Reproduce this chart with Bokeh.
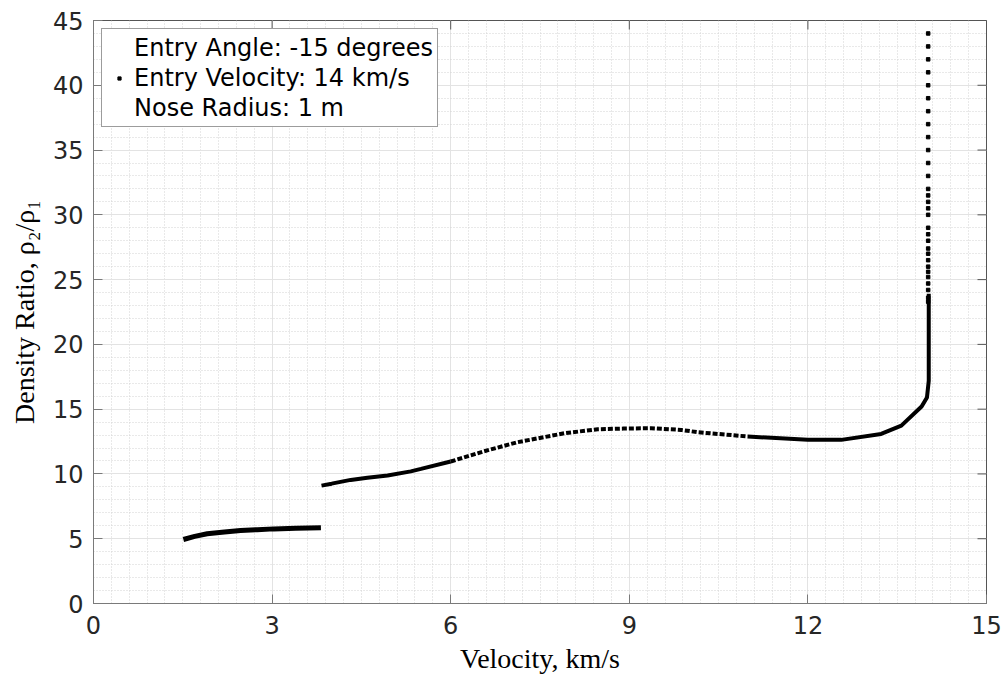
import math
from bokeh.plotting import figure
from bokeh.models import Range1d, SingleIntervalTicker, Legend, LegendItem
from bokeh.embed import file_html
from bokeh.resources import INLINE

# ---------------- data ----------------
low_velocity = [1.51, 1.70, 1.91, 2.20, 2.47, 2.75, 3.03, 3.40, 3.82]
low_ratio = [4.94, 5.18, 5.38, 5.52, 5.63, 5.70, 5.76, 5.80, 5.84]

mid_velocity = [3.83, 4.00, 4.32, 4.60, 4.94, 5.33, 5.50, 6.00, 6.56, 7.12, 7.91,
                8.47, 8.90, 9.37, 9.87, 10.15, 10.99, 12.00, 12.56, 13.23, 13.57,
                13.91, 14.00, 14.03, 14.03]
mid_ratio = [9.10, 9.25, 9.54, 9.70, 9.88, 10.20, 10.39, 10.96, 11.75, 12.45, 13.14,
             13.45, 13.50, 13.53, 13.40, 13.22, 12.89, 12.63, 12.63, 13.09, 13.73,
             15.20, 15.90, 17.20, 23.90]

top_velocity = [14.02] * 30
top_ratio = [44, 43, 42, 41, 40, 39, 38, 37, 36, 35, 34, 33, 32, 31.5, 31, 30.5, 30,
             29, 28.5, 28, 27.4, 27, 26.5, 26, 25.6, 25.2, 24.7, 24.2, 23.6, 23.3]

x_ticks = [0, 3, 6, 9, 12, 15]
y_ticks = [0, 5, 10, 15, 20, 25, 30, 35, 40, 45]
legend_labels = ["Entry Angle: -15 degrees", "Entry Velocity: 14 km/s", "Nose Radius: 1 m"]
x_label = "Velocity, km/s"
y_label = "Density Ratio, \u03c1\u2082/\u03c1\u2081"

# ---------------- figure ----------------
x_min, x_max = x_ticks[0], x_ticks[-1]
y_min, y_max = y_ticks[0], y_ticks[-1]
p = figure(width=1005, height=690, output_backend="svg", toolbar_location=None,
           x_range=Range1d(x_min, x_max), y_range=Range1d(y_min, y_max),
           min_border_left=93, min_border_right=19, min_border_top=20, min_border_bottom=87,
           background_fill_color="white", border_fill_color="white")
p.outline_line_color = "#555555"
p.outline_line_width = 1

tick_font = "DejaVu Sans"
axis_color = "#7a7a7a"
text_color = "#262626"

p.xaxis.ticker = SingleIntervalTicker(interval=x_ticks[1] - x_ticks[0], num_minor_ticks=10)
p.yaxis.ticker = SingleIntervalTicker(interval=y_ticks[1] - y_ticks[0], num_minor_ticks=5)
p.xgrid.ticker = p.xaxis.ticker
p.ygrid.ticker = p.yaxis.ticker

for ax in (p.xaxis[0], p.yaxis[0]):
    ax.major_label_text_font = tick_font
    ax.major_label_text_font_size = "24px"
    ax.major_label_text_color = text_color
    ax.axis_line_color = axis_color
    ax.major_tick_line_color = axis_color
    ax.major_tick_in = 9
    ax.major_tick_out = 0
    ax.minor_tick_in = 0
    ax.minor_tick_out = 0
    ax.axis_label_text_font = "Liberation Serif"
    ax.axis_label_text_font_size = "28px"
    ax.axis_label_text_font_style = "normal"
    ax.axis_label_text_color = "#000000"

p.xaxis.axis_label = x_label
p.yaxis.axis_label = y_label
p.xaxis.major_label_standoff = 12
p.yaxis.major_label_standoff = 10
p.xaxis.axis_label_standoff = 6
p.yaxis.axis_label_standoff = 10

for g in (p.xgrid[0], p.ygrid[0]):
    g.grid_line_color = "#e3e3e3"
    g.grid_line_width = 1
    g.minor_grid_line_color = "#d2d2d2"
    g.minor_grid_line_dash = "1 2"
    g.minor_grid_line_width = 1

# inward tick marks on the top and right edges of the box (half of each dash is clipped)
p.scatter(x_ticks, [y_max] * len(x_ticks), marker="dash", size=18, angle=math.pi / 2,
          line_color="#555555", line_width=1)
p.scatter([x_max] * len(y_ticks), y_ticks, marker="dash", size=18, angle=0,
          line_color="#555555", line_width=1)

# ---------------- data glyphs ----------------
p.line(low_velocity, low_ratio, line_color="black", line_width=5)
# dense start of the upper branch
p.line(mid_velocity[:8], mid_ratio[:8], line_color="black", line_width=4)
# sparser dotted middle
p.line(mid_velocity[7:17], mid_ratio[7:17], line_color="black", line_width=4,
       line_dash="5 2")
# dense rise to the vertical
p.line(mid_velocity[16:], mid_ratio[16:], line_color="black", line_width=4)
dots = p.scatter(top_velocity, top_ratio, marker="square", size=3.5,
                 fill_color="black", line_color="black")

blank1 = p.scatter(x=[], y=[], fill_alpha=0, line_alpha=0)
blank2 = p.scatter(x=[], y=[], fill_alpha=0, line_alpha=0)

legend = Legend(items=[
    LegendItem(label=legend_labels[0], renderers=[blank1]),
    LegendItem(label=legend_labels[1], renderers=[dots]),
    LegendItem(label=legend_labels[2], renderers=[blank2]),
], location="top_left")
legend.label_text_font = tick_font
legend.label_text_font_size = "24px"
legend.label_text_color = "#000000"
legend.border_line_color = "#3a3a3a"
legend.border_line_width = 1
legend.background_fill_color = "white"
legend.background_fill_alpha = 1
legend.padding = 4
legend.spacing = 1
legend.margin = 8
legend.glyph_width = 26
legend.glyph_height = 8
legend.label_standoff = 2
legend.label_height = 29
p.add_layout(legend)

open("out.html", "w").write(file_html(p, INLINE))
